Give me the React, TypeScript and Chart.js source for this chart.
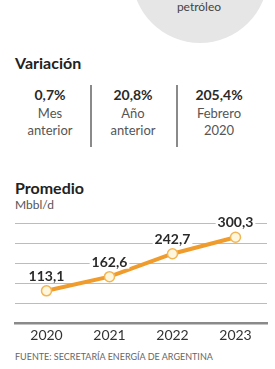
import React, { useEffect, useRef } from "react";
import { Chart, registerables } from "chart.js";

Chart.register(...registerables);

const years = ["2020", "2021", "2022", "2023"];
const promedio = [113.1, 162.6, 242.7, 300.3];
const yMin = 0;
const yMax = 350;
const yStep = 70;

const variaciones = ["0,7%", "20,8%", "205,4%"];
const variacionLabel1 = ["Mes", "Año", "Febrero"];
const variacionLabel2 = ["anterior", "anterior", "2020"];

const FONT = "Lato, 'Open Sans', sans-serif";

const fmt = (v: number) => v.toFixed(1).replace(".", ",");

const labelPlugin = {
  id: "pointLabels",
  afterDatasetsDraw(chart: any) {
    const ctx = chart.ctx;
    const meta = chart.getDatasetMeta(0);
    ctx.save();
    ctx.font = `bold 14px ${FONT}`;
    ctx.textAlign = "center";
    ctx.textBaseline = "middle";
    meta.data.forEach((pt: any, i: number) => {
      const txt = fmt(promedio[i]);
      const w = ctx.measureText(txt).width;
      const x = pt.x;
      const y = pt.y - 15;
      ctx.fillStyle = "#ffffff";
      ctx.fillRect(x - w / 2 - 2, y - 7, w + 4, 14);
      ctx.fillStyle = "#2a2a2a";
      ctx.fillText(txt, x, y + 0.5);
    });
    ctx.restore();
  },
};

function LineChart() {
  const ref = useRef<HTMLCanvasElement>(null);
  useEffect(() => {
    if (!ref.current) return;
    const chart = new Chart(ref.current, {
      type: "line",
      data: {
        labels: years,
        datasets: [
          {
            data: promedio,
            borderColor: "#EF9C2C",
            borderWidth: 4,
            pointRadius: 5,
            pointBackgroundColor: "#FFF6DE",
            pointBorderColor: "#F3B654",
            pointBorderWidth: 1.5,
            tension: 0,
          },
        ],
      },
      options: {
        animation: false,
        responsive: false,
        maintainAspectRatio: false,
        layout: { padding: { left: 15, right: 8, top: 11, bottom: 0 } },
        plugins: { legend: { display: false }, tooltip: { enabled: false } },
        scales: {
          x: {
            offset: true,
            grid: { display: false, drawTicks: false },
            border: { display: true, color: "#8a8a8a", width: 2.5, z: 1 },
            ticks: {
              padding: 4,
              color: "#333",
              font: { family: FONT, size: 14 },
            },
          },
          y: {
            min: yMin,
            max: yMax,
            ticks: { display: false, stepSize: yStep },
            border: { display: false },
            grid: {
              display: true,
              drawOnChartArea: true,
              drawTicks: false,
              color: "#bcbcbc",
              lineWidth: 1,
            },
          },
        },
      },
      plugins: [labelPlugin],
    });
    return () => chart.destroy();
  }, []);
  return (
    <canvas
      ref={ref}
      width={275}
      height={136}
      style={{ position: "absolute", left: 0, top: 212, width: 275, height: 136 }}
    />
  );
}

export default function App() {
  const colCenters = [50, 133, 219];
  return (
    <div
      style={{
        position: "absolute",
        left: 0,
        top: 0,
        width: 275,
        height: 369,
        overflow: "hidden",
        background: "#fff",
        fontFamily: FONT,
      }}
    >
      <div
        style={{
          position: "absolute",
          left: 15,
          top: -14,
          fontSize: 13,
          color: "#a0a0a0",
          whiteSpace: "nowrap",
        }}
      >
        Nueva marca histórica
      </div>
      <div
        style={{
          position: "absolute",
          left: 132,
          top: -93,
          width: 136,
          height: 136,
          borderRadius: "50%",
          background: "#e6e6e6",
        }}
      />
      <div
        style={{
          position: "absolute",
          left: 159,
          width: 80,
          top: 0,
          textAlign: "center",
          fontSize: 12,
          lineHeight: "14px",
          color: "#444",
        }}
      >
        petróleo
      </div>
      <div
        style={{
          position: "absolute",
          left: 15,
          top: 54,
          fontSize: 16,
          lineHeight: "18px",
          fontWeight: 700,
          color: "#222",
        }}
      >
        Variación
      </div>
      {variaciones.map((v, i) => (
        <div
          key={v}
          style={{
            position: "absolute",
            left: colCenters[i] - 40,
            width: 80,
            top: 86,
            textAlign: "center",
            color: "#555",
          }}
        >
          <div style={{ fontSize: 14, fontWeight: 700, color: "#2a2a2a", lineHeight: "17px" }}>{v}</div>
          <div style={{ fontSize: 13, lineHeight: "17px", marginTop: 2 }}>{variacionLabel1[i]}</div>
          <div style={{ fontSize: 13, lineHeight: "17px" }}>{variacionLabel2[i]}</div>
        </div>
      ))}
      {[91, 177].map((x) => (
        <div
          key={x}
          style={{
            position: "absolute",
            left: x - 0.75,
            top: 85,
            width: 1.5,
            height: 62,
            background: "#8a8a8a",
          }}
        />
      ))}
      <div
        style={{
          position: "absolute",
          left: 15,
          top: 179,
          fontSize: 16,
          lineHeight: "18px",
          fontWeight: 700,
          color: "#222",
        }}
      >
        Promedio
      </div>
      <div
        style={{
          position: "absolute",
          left: 15,
          top: 197,
          fontSize: 12,
          lineHeight: "15px",
          color: "#555",
        }}
      >
        Mbbl/d
      </div>
      <LineChart />
      <div
        style={{
          position: "absolute",
          left: 15,
          top: 351,
          fontSize: 9,
          lineHeight: "12px",
          color: "#666",
          whiteSpace: "nowrap",
        }}
      >
        FUENTE: SECRETARÍA ENERGÍA DE ARGENTINA
      </div>
    </div>
  );
}
